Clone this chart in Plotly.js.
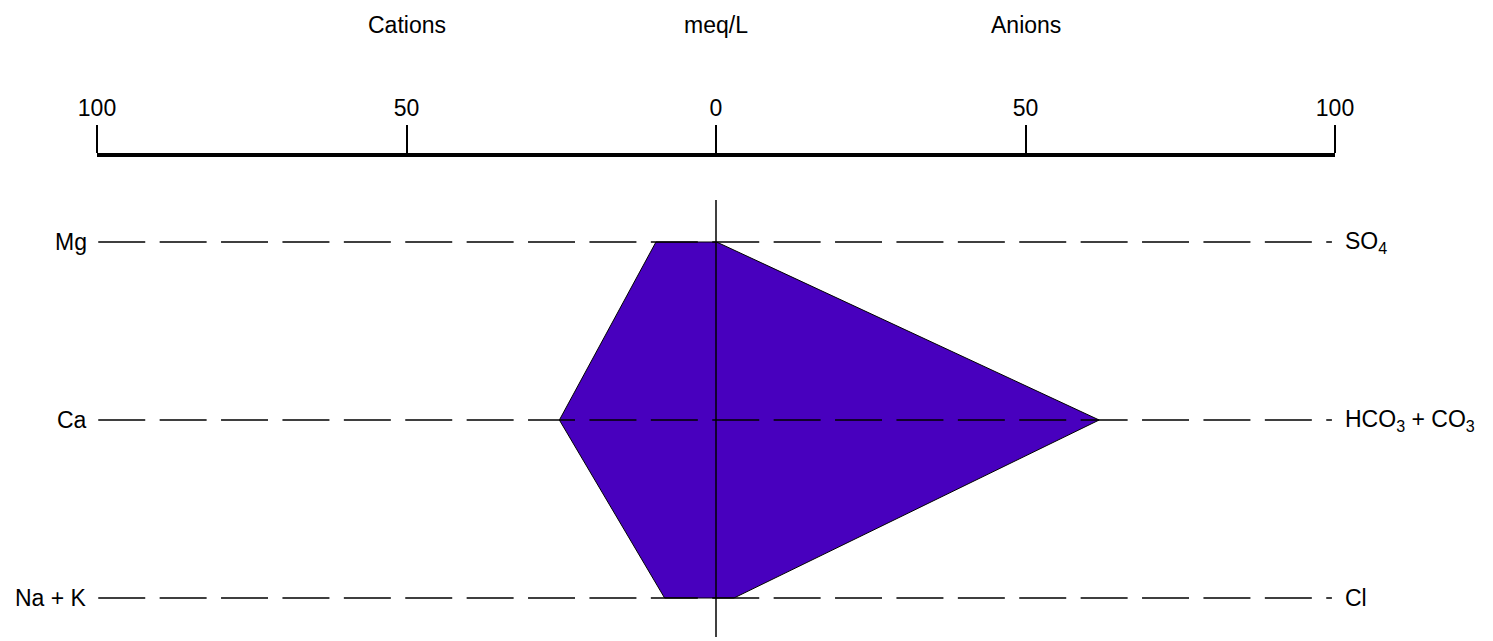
<!DOCTYPE html>
<html>
<head>
<meta charset="utf-8">
<script src="https://cdn.plot.ly/plotly-3.0.1.min.js"></script>
<style>html,body{margin:0;padding:0;background:#fff;}#chart{width:1493px;height:641px;}</style>
</head>
<body>
<div id="chart"></div>
<script>
// Stiff diagram values (meq/L)
var cationLabels = ['Mg', 'Ca', 'Na + K'];
var anionLabels = ['SO<sub>4</sub>', 'HCO<sub>3</sub> + CO<sub>3</sub>', 'Cl'];
var cationValues = [9.7, 25.3, 8.3];
var anionValues = [0.1, 61.9, 2.9];
var rowPositions = [1, 2, 3];
var tickValues = [-100, -50, 0, 50, 100];
var tickLabels = ['100', '50', '0', '50', '100'];
var headerLabels = ['Cations', 'meq/L', 'Anions'];
var headerPositions = [-50, 0, 50];

var FONT = 'Liberation Sans, Arial, sans-serif';
var FS = 23;

// polygon: anions top->bottom, then cations bottom->top
var px = [], py = [];
px.push(-cationValues[0]); py.push(rowPositions[0]);
for (var i = 0; i < rowPositions.length; i++) { px.push(anionValues[i]); py.push(rowPositions[i]); }
for (var j = rowPositions.length - 1; j >= 0; j--) { px.push(-cationValues[j]); py.push(rowPositions[j]); }

var traces = [{
  x: px, y: py, type: 'scatter', mode: 'lines', fill: 'toself',
  fillcolor: '#4800BE', line: {color: '#000', width: 1}, hoverinfo: 'skip', showlegend: false
}];

// dashed row lines
rowPositions.forEach(function (r) {
  traces.push({
    x: [-99.8, 99.5], y: [r, r], type: 'scatter', mode: 'lines',
    line: {color: '#000', width: 1.3, dash: '47px,14.4px'}, hoverinfo: 'skip', showlegend: false
  });
});

// central vertical line
traces.push({
  x: [0, 0], y: [0.764, 3.219], type: 'scatter', mode: 'lines',
  line: {color: '#000', width: 1.5}, hoverinfo: 'skip', showlegend: false
});

var annotations = [];
rowPositions.forEach(function (r, k) {
  annotations.push({x: 0, xshift: -8, y: r, xref: 'paper', yref: 'y', text: cationLabels[k], showarrow: false,
    xanchor: 'right', yanchor: 'middle', font: {family: FONT, size: FS, color: '#000'}});
  annotations.push({x: 1, xshift: 8, y: r, xref: 'paper', yref: 'y', text: anionLabels[k], showarrow: false,
    xanchor: 'left', yanchor: 'middle', font: {family: FONT, size: FS, color: '#000'}});
});
headerLabels.forEach(function (h, k) {
  annotations.push({x: (headerPositions[k] + 100) / 200, y: 1, xref: 'paper', yref: 'paper', yshift: 132, text: h,
    showarrow: false, xanchor: 'center', yanchor: 'middle', font: {family: FONT, size: FS, color: '#000'}});
});

var layout = {
  width: 1493, height: 641,
  margin: {l: 97, r: 158, t: 157, b: 0},
  paper_bgcolor: '#fff', plot_bgcolor: '#fff',
  showlegend: false,
  xaxis: {
    range: [-100, 100], side: 'top', showgrid: false, zeroline: false,
    showline: true, linecolor: '#000', linewidth: 4,
    ticks: 'outside', ticklen: 28, tickwidth: 2, tickcolor: '#000',
    tickvals: tickValues, ticktext: tickLabels,
    tickfont: {family: FONT, size: FS, color: '#000'}, fixedrange: true
  },
  yaxis: {
    range: [3.2416, 0.5225], visible: false, showgrid: false, zeroline: false, fixedrange: true
  },
  annotations: annotations
};

Plotly.newPlot('chart', traces, layout, {staticPlot: true, displayModeBar: false});
</script>
</body>
</html>
